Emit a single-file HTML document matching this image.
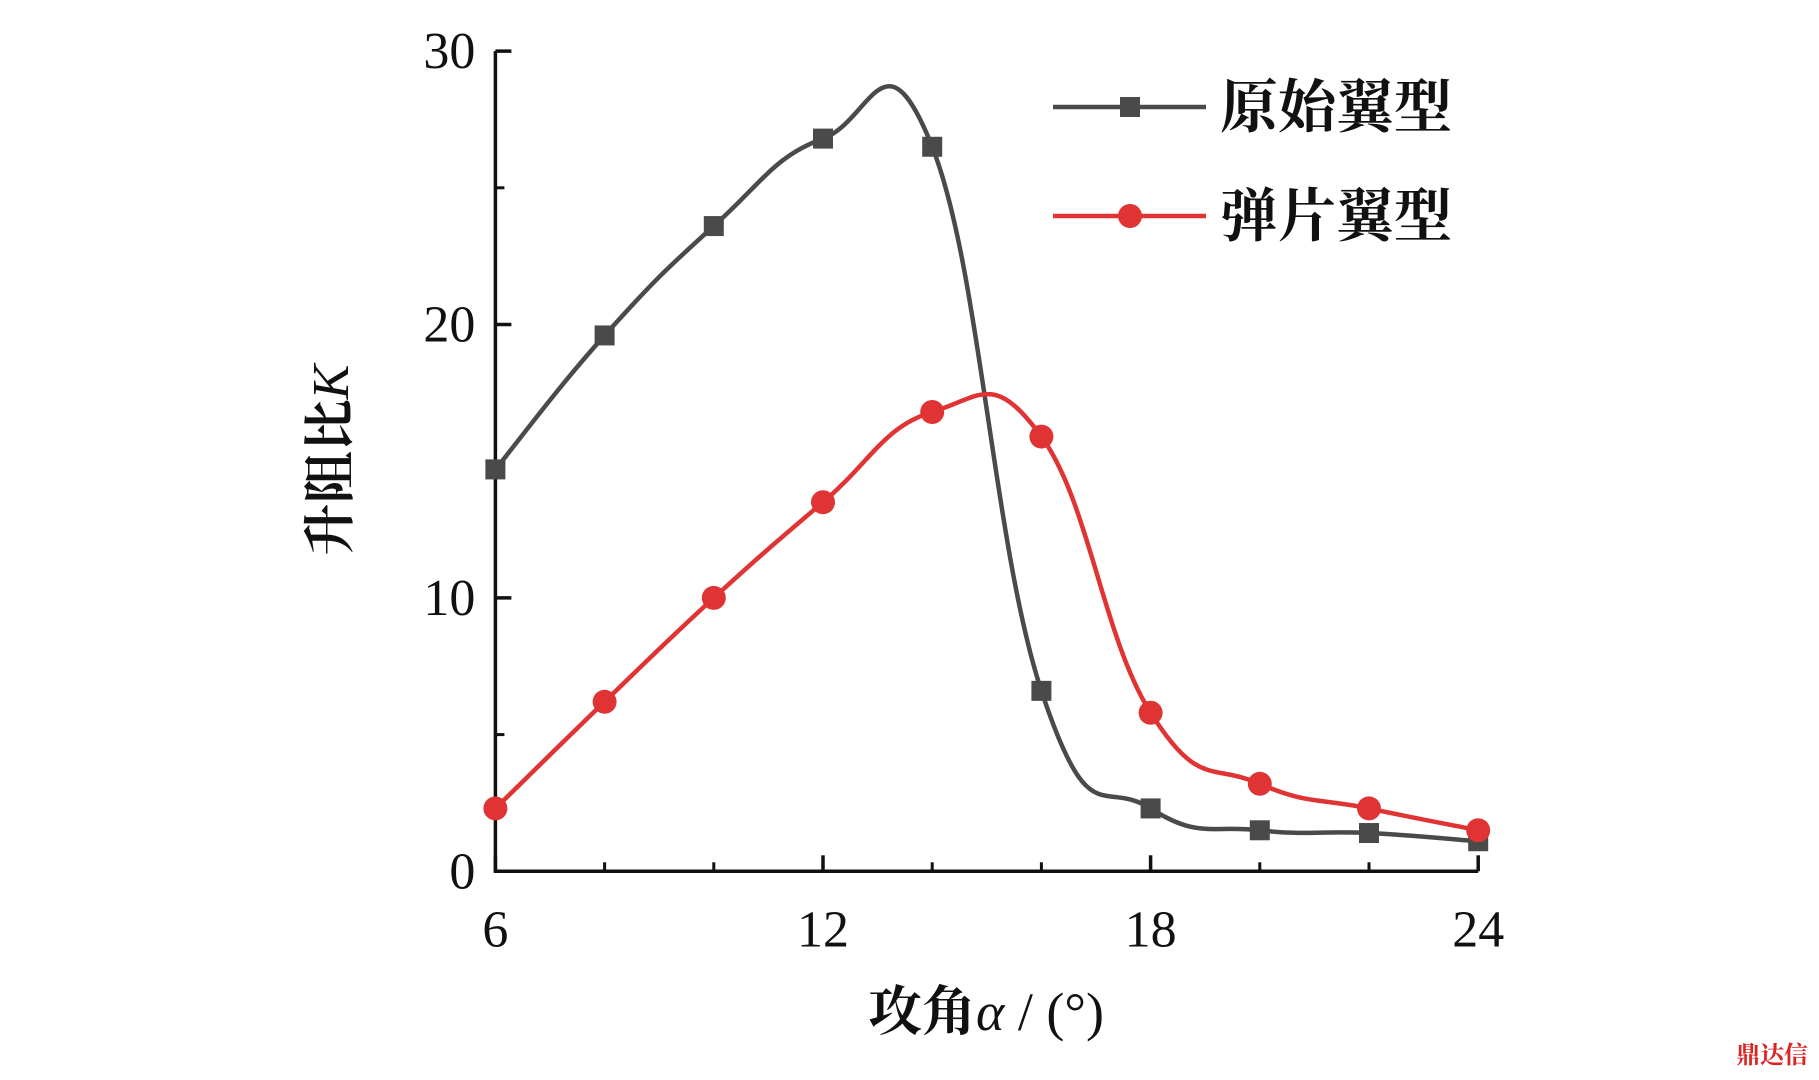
<!DOCTYPE html>
<html><head><meta charset="utf-8"><style>
body{margin:0;background:#fff}
svg text{font-family:"Liberation Serif","Noto Serif CJK SC",serif}
</style></head><body>
<svg width="1819" height="1075" viewBox="0 0 1819 1075" xmlns="http://www.w3.org/2000/svg">
<g id="plot"></g>
<g>
 <g>
  <line x1="1053" y1="107" x2="1206" y2="107" stroke="#4a4a4a" stroke-width="4.5"/>
  <rect x="1120" y="97" width="20" height="20" fill="#4a4a4a"/>
  <text x="1220" y="127" font-size="58" font-weight="bold" fill="#111" font-family="Noto Serif CJK SC,serif">原始翼型</text>
 </g>
 <g>
  <line x1="1053" y1="216" x2="1206" y2="216" stroke="#e03333" stroke-width="4.5"/>
  <circle cx="1130" cy="216" r="12" fill="#e03333"/>
  <text x="1220" y="236" font-size="58" font-weight="bold" fill="#111" font-family="Noto Serif CJK SC,serif">弹片翼型</text>
 </g>
</g>
<text transform="translate(348,460) rotate(-90)" text-anchor="middle" font-size="52" fill="#111"><tspan font-family="Noto Serif CJK SC,serif" font-weight="bold">升阻比</tspan><tspan font-style="italic">K</tspan></text>
<text x="986" y="1030" text-anchor="middle" font-size="54" fill="#111"><tspan font-family="Noto Serif CJK SC,serif" font-weight="bold">攻角</tspan><tspan font-style="italic">α</tspan> / (°)</text>
<text x="1808" y="1063" text-anchor="end" font-size="24" fill="#d22" font-weight="bold" font-family="Noto Sans CJK SC,sans-serif">鼎达信</text>
</svg>
<script>
const angles=[6,8,10,12,14,16,18,20,22,24];
const originalK=[14.7,19.6,23.6,26.8,26.5,6.6,2.3,1.5,1.4,1.1];
const flapK=[2.3,6.2,10.0,13.5,16.8,15.9,5.8,3.2,2.3,1.5];
const xTicks=[6,12,18,24];
const xMinor=[8,10,14,16,20,22];
const yTicks=[0,10,20,30];
const yMinor=[5,15,25];
const X=v=>495.4+(v-6)*54.6;
const Y=v=>871.3-v*27.34;
const NS="http://www.w3.org/2000/svg";
const g=document.getElementById('plot');
function mk(t,a,p){const e=document.createElementNS(NS,t);for(const k in a)e.setAttribute(k,a[k]);(p||g).appendChild(e);return e;}
function spline(xs,ys){const p=xs.map((x,i)=>[X(x),Y(ys[i])]);let d=`M${p[0][0]},${p[0][1]}`;const t=0.22;
for(let i=0;i<p.length-1;i++){const p0=p[i-1]||p[i],p1=p[i],p2=p[i+1],p3=p[i+2]||p2;
const c1=[p1[0]+(p2[0]-p0[0])*t,p1[1]+(p2[1]-p0[1])*t],c2=[p2[0]-(p3[0]-p1[0])*t,p2[1]-(p3[1]-p1[1])*t];
d+=`C${c1[0]},${c1[1]} ${c2[0]},${c2[1]} ${p2[0]},${p2[1]}`;}return d;}
let ax=mk('path',{d:`M${X(6)},${Y(30)}V${Y(0)}H${X(24)}`,fill:'none',stroke:'#111','stroke-width':3.5});

yTicks.forEach(v=>{const l=mk('line',{x1:X(6),x2:X(6)+16,y1:Y(v),y2:Y(v),stroke:'#111','stroke-width':3.5});

const t=mk('text',{x:X(6)-20,y:Y(v)+17,'text-anchor':'end','font-size':52,fill:'#111'});t.textContent=v;
});
yMinor.forEach(v=>{const l=mk('line',{x1:X(6),x2:X(6)+9,y1:Y(v),y2:Y(v),stroke:'#111','stroke-width':3});
});
xTicks.forEach(v=>{const l=mk('line',{x1:X(v),x2:X(v),y1:Y(0),y2:Y(0)-16,stroke:'#111','stroke-width':3.5});

const t=mk('text',{x:X(v),y:Y(0)+75,'text-anchor':'middle','font-size':52,fill:'#111'});t.textContent=v;
});
xMinor.forEach(v=>{const l=mk('line',{x1:X(v),x2:X(v),y1:Y(0),y2:Y(0)-9,stroke:'#111','stroke-width':3});
});
const s1=mk('path',{d:spline(angles,originalK),fill:'none',stroke:'#4a4a4a','stroke-width':4.5});

const s2=mk('path',{d:spline(angles,flapK),fill:'none',stroke:'#e03333','stroke-width':4.5});

angles.forEach((a,i)=>{const r=mk('rect',{x:X(a)-10,y:Y(originalK[i])-10,width:20,height:20,fill:'#4a4a4a'});
});
angles.forEach((a,i)=>{const c=mk('circle',{cx:X(a),cy:Y(flapK[i]),r:12,fill:'#e03333'});
});
</script>
</body></html>
